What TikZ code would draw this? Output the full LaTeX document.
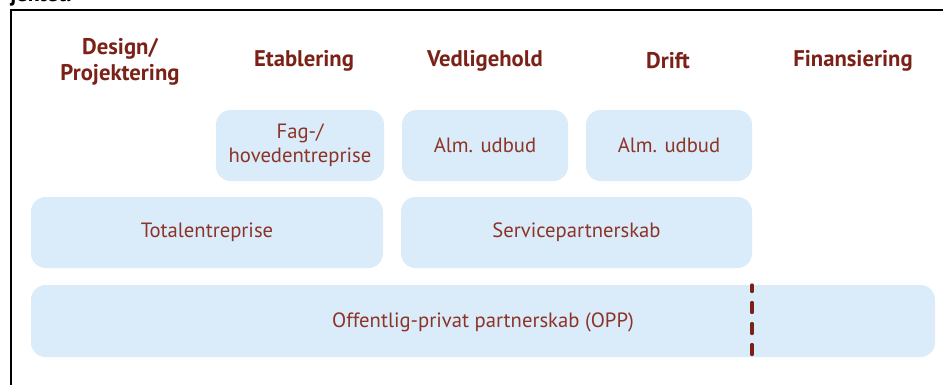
\documentclass[tikz,border=0pt]{standalone}
\usepackage{fontspec}
\setmainfont{PT Sans}
\usetikzlibrary{fit}
\definecolor{hdr}{RGB}{122,34,24}
\definecolor{txt}{RGB}{140,52,40}
\definecolor{boxfill}{RGB}{218,235,249}
\tikzset{
  hdrtext/.style={text=hdr, font=\fontsize{17}{20}\selectfont\bfseries, align=center, inner sep=0pt},
  boxnode/.style={fill=boxfill, rounded corners=11pt, inner sep=0pt, text=txt,
    font=\fontsize{15.5}{18}\selectfont, align=center},
  frameline/.style={line width=0.8pt, black},
  splitline/.style={line width=2.4pt, hdr, line cap=round,
    dash pattern=on 7.5pt off 8.25pt, dash phase=2.6pt}
}
\begin{document}
\begin{tikzpicture}[x=0.75pt, y=-0.75pt]
\useasboundingbox (0,0) rectangle (943,385);
\clip (0,0) rectangle (943,385);
\fill[white] (0,0) rectangle (943,385);
% cropped caption text above the frame
\node[anchor=base west, inner sep=0pt, font=\fontsize{17}{19.5}\selectfont\bfseries] (cap) at (10,2) {jektet.};
% frame
\coordinate (ftl) at (11,10);
\coordinate (ftr) at (945,10);
\coordinate (fbl) at (11,390);
\draw[frameline] (fbl) -- (ftl) -- (ftr);
% headers
\node[hdrtext] (h1) at (120,62) {Design/\\Projektering};
\node[hdrtext] (h2) at (304,61) {Etablering};
\node[hdrtext] (h3) at (485,61) {Vedligehold};
\node[hdrtext] (h4) at (668,61) {Drift};
\node[hdrtext] (h5) at (853,61) {Finansiering};
% boxes
\node[boxnode, fit={(216,110) (384,181)}] (fag) {};
\node[boxnode, fill=none] (fagt) at (fag.center) {Fag-/\\hovedentreprise};
\node[boxnode, fit={(402,110) (568,181)}] (alm1) {};
\node[boxnode, fill=none] (alm1t) at (alm1.center) {Alm. udbud};
\node[boxnode, fit={(586,110) (752,181)}] (alm2) {};
\node[boxnode, fill=none] (alm2t) at (alm2.center) {Alm. udbud};
\node[boxnode, fit={(31,197) (383,268)}] (total) {};
\node[boxnode, fill=none] (totalt) at (total.center) {Totalentreprise};
\node[boxnode, fit={(401,197) (752,268)}] (serv) {};
\node[boxnode, fill=none] (servt) at (serv.center) {Servicepartnerskab};
\node[boxnode, fit={(31,285) (935,357)}] (opp) {};
\node[boxnode, fill=none] (oppt) at (483,322) {Offentlig-privat partnerskab (OPP)};
% split line
\coordinate (s1) at (752,285);
\coordinate (s2) at (752,356);
\draw[splitline] (s1) -- (s2);
\end{tikzpicture}
\end{document}
